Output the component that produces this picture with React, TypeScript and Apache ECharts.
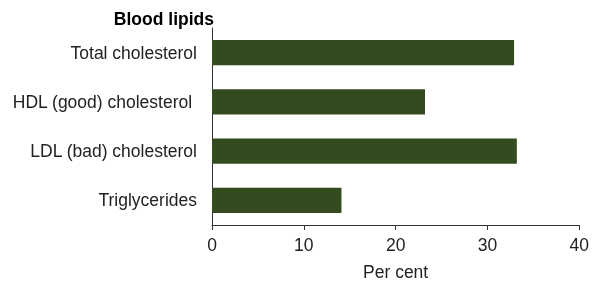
import React, { useEffect, useRef } from "react";
import * as echarts from "echarts";

const categories = ["Total cholesterol", "HDL (good) cholesterol ", "LDL (bad) cholesterol", "Triglycerides"];
const values = [32.9, 23.2, 33.2, 14.1];
const xTicks = [0, 10, 20, 30, 40];
const groupTitle = "Blood lipids";
const xAxisTitle = "Per cent";

export default function App() {
  const ref = useRef<HTMLDivElement>(null);
  useEffect(() => {
    const chart = echarts.init(ref.current!, null, { renderer: "svg" });
    const font = "Arial, 'Liberation Sans', sans-serif";
    chart.setOption({
      animation: false,
      textStyle: { fontFamily: font },
      grid: { left: 212, right: 10, top: 28, bottom: 55, containLabel: false },
      graphic: [
        {
          type: "text",
          right: 592 - 214,
          top: 10,
          style: { text: groupTitle, font: "bold 17.5px " + font, fill: "#000" },
        },
      ],
      xAxis: {
        type: "value",
        min: xTicks[0],
        max: xTicks[xTicks.length - 1],
        interval: 10,
        name: xAxisTitle,
        nameLocation: "middle",
        nameGap: 38,
        nameTextStyle: { fontSize: 17.5, color: "#222", fontFamily: font },
        axisLine: { show: true, lineStyle: { color: "#333", width: 1 } },
        axisTick: { show: true, length: 5, lineStyle: { color: "#333" } },
        axisLabel: { fontSize: 17.5, color: "#222", margin: 11, fontFamily: font },
        splitLine: { show: false },
      },
      yAxis: {
        type: "category",
        data: categories,
        inverse: true,
        axisLine: { show: true, lineStyle: { color: "#333", width: 1 } },
        axisTick: { show: false },
        axisLabel: { fontSize: 17.5, color: "#222", margin: 15, fontFamily: font },
      },
      series: [
        {
          type: "bar",
          data: values,
          barCategoryGap: "49%",
          itemStyle: { color: "#344a1f" },
        },
      ],
    });
    return () => chart.dispose();
  }, []);
  return <div ref={ref} style={{ position: "fixed", left: 0, top: 0, width: 592, height: 286 }} />;
}
